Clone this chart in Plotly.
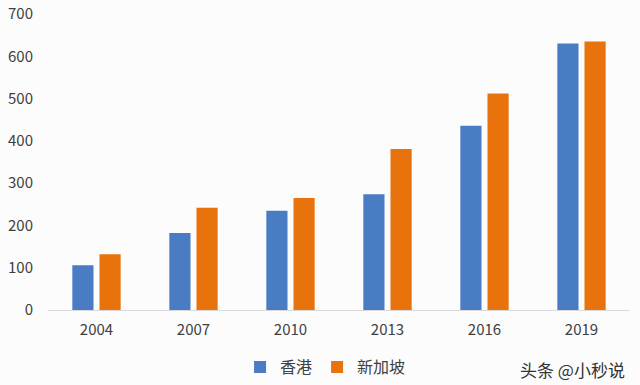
import plotly.graph_objects as go

years = ["2004", "2007", "2010", "2013", "2016", "2019"]
hk = [106, 182, 235, 274, 436, 630]
sg = [132, 242, 265, 381, 512, 635]
series_names = ["香港", "新加坡"]
y_ticks = [0, 100, 200, 300, 400, 500, 600, 700]

font = "Noto Sans CJK SC, Microsoft YaHei, sans-serif"

fig = go.Figure()
fig.add_trace(go.Bar(x=years, y=hk, name=series_names[0], marker=dict(color="#4A7CC3", line=dict(width=0))))
fig.add_trace(go.Bar(x=years, y=sg, name=series_names[1], marker=dict(color="#E8720C", line=dict(width=0))))

fig.update_layout(
    width=640, height=385,
    margin=dict(l=48, r=10, t=14, b=75, autoexpand=False),
    paper_bgcolor="#FCFCFD", plot_bgcolor="#FCFCFD",
    barmode="group", bargap=0.44, bargroupgap=0.22,
    font=dict(family=font, size=15, color="#404040"),
    showlegend=True,
    legend=dict(orientation="h", x=0.33, xanchor="left", y=-0.193, yanchor="middle",
                font=dict(size=16, color="#404040"), bgcolor="rgba(0,0,0,0)",
                itemwidth=30, traceorder="normal"),
    xaxis=dict(showgrid=False, showline=True, linecolor="#D9D9D9", linewidth=1,
               ticks="", automargin=False, ticklabelstandoff=6,
               tickfont=dict(size=15, color="#404040")),
    yaxis=dict(range=[0, 700], tickvals=y_ticks, showgrid=False, zeroline=False,
               showline=False, ticks="", automargin=False, ticklabelstandoff=14,
               tickfont=dict(size=15, color="#404040")),
)

fig.add_annotation(text="头条 @小秒说", xref="paper", yref="paper", x=0.995, y=-0.2,
                   xanchor="right", yanchor="middle", showarrow=False,
                   font=dict(size=17, color="#333333", family=font))

fig.write_html("out.html", config={"displayModeBar": False},
               post_script="document.body.style.margin='0';")
